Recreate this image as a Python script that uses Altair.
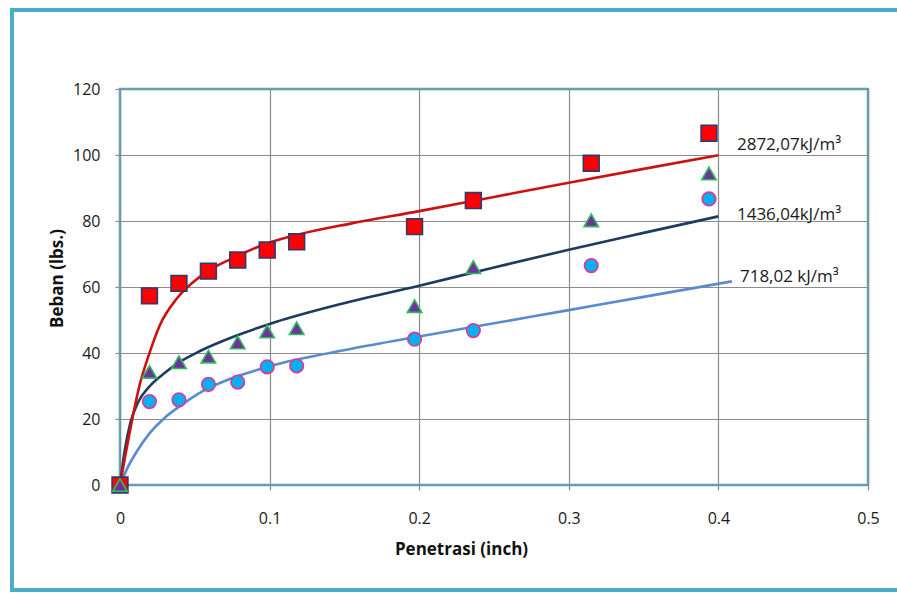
import altair as alt
import pandas as pd

# Penetration readings (inch) and measured loads (lbs.) for three compaction energies
penetrasi = [0, 0.0197, 0.0394, 0.0591, 0.0787, 0.0984, 0.1181, 0.1969, 0.2362, 0.3150, 0.3937]
beban_2872 = [0, 57.3, 61.1, 64.8, 68.2, 71.2, 73.7, 78.3, 86.2, 97.5, 106.6]
beban_1436 = [0, 34.3, 37.2, 38.9, 43.2, 46.5, 47.5, 54.2, 66.0, 80.2, 94.4]
beban_718 = [0, 25.3, 25.8, 30.5, 31.2, 35.8, 36.1, 44.2, 46.8, 66.5, 86.7]

# Trend curves, sampled along each fitted line
tren_2872_x = [0, 0.004, 0.0134, 0.0189, 0.0267, 0.038, 0.049, 0.058, 0.0757, 0.1, 0.12, 0.154, 0.2, 0.25, 0.3, 0.35, 0.4]
tren_2872_y = [0, 10.0, 30.8, 38.9, 48.5, 56.5, 61.5, 64.6, 68.8, 73.5, 76.0, 79.2, 83.0, 87.3, 91.6, 95.8, 99.9]
tren_1436_x = [0, 0.003, 0.007, 0.012, 0.02, 0.03, 0.04, 0.0535, 0.078, 0.1, 0.143, 0.2, 0.25, 0.3, 0.35, 0.4]
tren_1436_y = [0, 10.0, 19.0, 25.0, 30.0, 34.0, 37.3, 40.6, 45.3, 48.8, 54.3, 60.4, 65.9, 71.3, 76.4, 81.4]
tren_718_x = [0, 0.005, 0.011, 0.02, 0.03, 0.04, 0.055, 0.07, 0.087, 0.1, 0.154, 0.2, 0.25, 0.3, 0.35, 0.409]
tren_718_y = [0, 5.2, 10.0, 15.8, 20.4, 23.9, 28.4, 31.5, 34.2, 36.0, 41.2, 45.0, 49.0, 53.0, 57.0, 61.7]

# Curve annotations
label_text = ["2872,07kJ/m³", "1436,04kJ/m³", "718,02 kJ/m³"]
label_x = [0.4124, 0.4124, 0.4144]
label_y = [103.0, 81.8, 63.0]

FONT = "Open Sans"
FRAME = "#4BACC6"

x_scale = alt.Scale(domain=[0, 0.5], nice=False, zero=False)
y_scale = alt.Scale(domain=[0, 120], nice=False)

x_axis = alt.Axis(
    values=[0, 0.1, 0.2, 0.3, 0.4, 0.5], format="~g", labelFlush=False,
    title="Penetrasi (inch)", titleX=341, titleY=64, titleBaseline="middle",
    titleAlign="center", titleAnchor=None,
)
y_axis = alt.Axis(
    values=[0, 20, 40, 60, 80, 100, 120], labelFlush=False,
    title="Beban (lbs.)", titleX=-63, titleY=189, titleBaseline="middle",
    titleAlign="center", titleAngle=270,
)

X = alt.X("x:Q", scale=x_scale, axis=x_axis)
Y = alt.Y("y:Q", scale=y_scale, axis=y_axis)


def curve(xs, ys, color):
    df = pd.DataFrame({"x": xs, "y": ys})
    return alt.Chart(df).mark_line(
        color=color, strokeWidth=2.6, interpolate="monotone", clip=False
    ).encode(x=X, y=Y)


def points(ys, shape, fill, stroke, size):
    df = pd.DataFrame({"x": penetrasi, "y": ys})
    return alt.Chart(df).mark_point(
        shape=shape, filled=True, fill=fill, stroke=stroke, strokeWidth=1.6,
        size=size, opacity=1, fillOpacity=1,
    ).encode(x=X, y=Y)


labels_df = pd.DataFrame({"x": label_x, "y": label_y, "t": label_text})
labels = alt.Chart(labels_df).mark_text(
    align="left", baseline="middle", font=FONT, fontSize=17, color="#1a1a1a"
).encode(x=X, y=Y, text="t:N")

frame = alt.Chart(pd.DataFrame({"k": [0]})).mark_rect(
    fill="transparent", stroke=FRAME, strokeWidth=4
).encode(x=alt.value(-108), x2=alt.value(800), y=alt.value(-79), y2=alt.value(501))

chart = alt.layer(
    curve(tren_718_x, tren_718_y, "#5A8AD0"),
    curve(tren_1436_x, tren_1436_y, "#1F3A5F"),
    curve(tren_2872_x, tren_2872_y, "#CC1111"),
    points(beban_718, "circle", "#00B0F0", "#E8358C", 185),
    points(beban_2872, "square", "#FF0000", "#2E3B6E", 250),
    points(beban_1436, "triangle-up", "#7030A0", "#2EBD59", 210),
    labels,
    frame,
).properties(
    width=748, height=396,
    autosize=alt.AutoSizeParams(type="none"),
    padding={"left": 120, "top": 89, "right": 29, "bottom": 110},
    background="white",
).configure_view(
    stroke=FRAME, strokeWidth=2.5
).configure_axis(
    grid=True, gridColor="#8C8C8C", gridWidth=1.2,
    domain=False, tickColor="#8C8C8C", tickSize=5, tickWidth=1.2,
    labelFont=FONT, labelFontSize=16, labelColor="#1a1a1a",
    titleFont=FONT, titleFontSize=17, titleFontWeight="bold", titleColor="#111111",
).configure_axisX(
    labelPadding=20,
).configure_axisY(
    labelPadding=15,
)

chart.save("out.html", embed_options={"renderer": "svg", "actions": False})
